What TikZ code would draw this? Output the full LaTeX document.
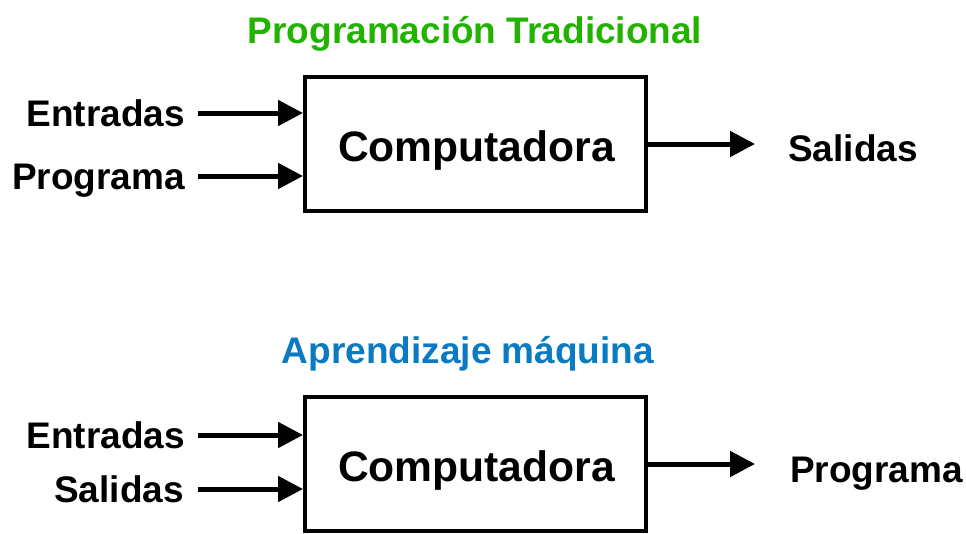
\documentclass[tikz,border=0pt]{standalone}
\usepackage{fontspec}
\setmainfont{Liberation Sans}
\usetikzlibrary{arrows.meta}
\definecolor{tradgreen}{RGB}{34,178,0}
\definecolor{mlblue}{RGB}{10,123,194}

\begin{document}
\begin{tikzpicture}[x=1pt,y=-1pt,
    lbl/.style={font=\bfseries\fontsize{37}{44}\selectfont,inner sep=0pt,
      text height=26.5pt,text depth=0pt},
    ttl/.style={font=\bfseries\fontsize{37}{44}\selectfont,inner sep=0pt,anchor=base},
    comp/.style={draw,line width=4pt,minimum width=341pt,minimum height=134pt,
      inner sep=0pt},
    ctext/.style={font=\bfseries\fontsize{42.6}{50}\selectfont,inner sep=0pt,anchor=base},
    arr/.style={line width=5pt,-{Triangle[length=25pt,width=25pt]}}]
  \useasboundingbox (0,0) rectangle (966,533);

  % programacion tradicional
  \node[ttl,text=tradgreen] (t1) at (475,43) {Programación Tradicional};
  \node[comp] (c1) at (475.5,144) {};
  \node[ctext] at (476.5,161) {Computadora};
  \node[lbl,anchor=east] (e1) at (185,113) {Entradas};
  \node[lbl,anchor=east] (p1) at (185,176) {Programa};
  \node[lbl,anchor=west] (s1) at (788,148.5) {Salidas};
  \draw[arr,shorten <=13pt] (e1.east) -- (e1.east -| c1.west);
  \draw[arr,shorten <=13pt] (p1.east) -- (p1.east -| c1.west);
  \draw[arr,shorten >=33pt] (c1.east) -- (c1.east -| s1.west);

  % aprendizaje maquina
  \node[ttl,text=mlblue] (t2) at (468,363) {Aprendizaje máquina};
  \node[comp] (c2) at (475.5,464) {};
  \node[ctext] at (476.5,481) {Computadora};
  \node[lbl,anchor=east] (e2) at (185,435) {Entradas};
  \node[lbl,anchor=east] (s2) at (184,489) {Salidas};
  \node[lbl,anchor=west] (p2) at (790,469.5) {Programa};
  \draw[arr,shorten <=13pt] (e2.east) -- (e2.east -| c2.west);
  \draw[arr,shorten <=14pt] (s2.east) -- (s2.east -| c2.west);
  \draw[arr,shorten >=35pt] (c2.east) -- (c2.east -| p2.west);
\end{tikzpicture}
\end{document}
